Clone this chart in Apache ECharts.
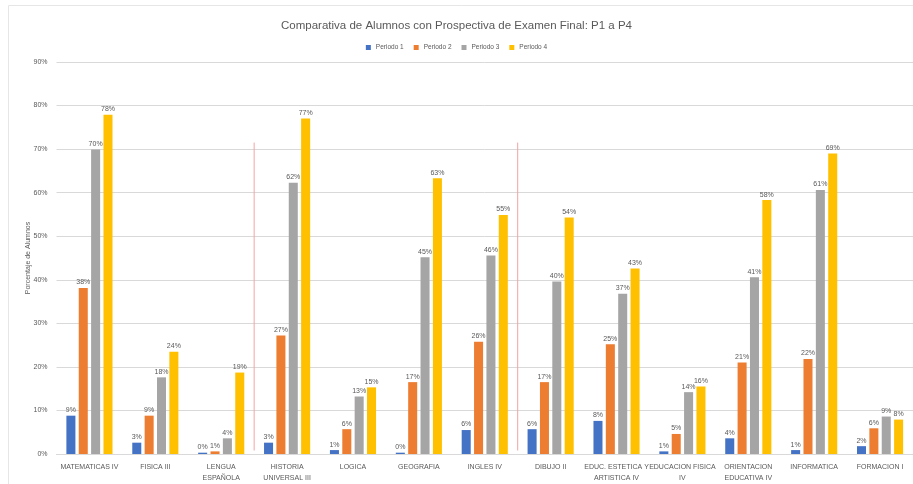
<!DOCTYPE html>
<html>
<head>
<meta charset="utf-8">
<script src="https://cdn.jsdelivr.net/npm/echarts@6/dist/echarts.min.js"></script>
<style>html,body{margin:0;padding:0;background:#fff}#c{width:913px;height:484px}</style>
</head>
<body>
<div id="c"></div>
<script>
const categories = ["MATEMATICAS IV","FISICA III","LENGUA\nESPAÑOLA","HISTORIA\nUNIVERSAL III","LOGICA","GEOGRAFIA","INGLES IV","DIBUJO II","EDUC. ESTETICA Y\nARTISTICA IV","EDUCACION FISICA\nIV","ORIENTACION\nEDUCATIVA IV","INFORMATICA","FORMACION I"];
const periodo1 = [8.8, 2.6, 0.3, 2.6, 0.9, 0.3, 5.5, 5.7, 7.6, 0.6, 3.6, 0.9, 1.8];
const periodo2 = [38.1, 8.8, 0.6, 27.2, 5.7, 16.5, 25.8, 16.5, 25.2, 4.6, 21.0, 21.8, 5.9];
const periodo3 = [69.9, 17.6, 3.6, 62.3, 13.2, 45.2, 45.6, 39.6, 36.8, 14.2, 40.6, 60.6, 8.6];
const periodo4 = [77.9, 23.5, 18.7, 77.0, 15.3, 63.3, 54.9, 54.3, 42.6, 15.5, 58.3, 69.0, 7.9];
const seriesNames = ["Periodo 1","Periodo 2","Periodo 3","Periodo 4"];
const colors = ["#4472C4","#ED7D31","#A5A5A5","#FFC000"];
const yTicks = [0,10,20,30,40,50,60,70,80,90];
const separators = [[2.5, 71.5], [6.5, 71.5]];

const chart = echarts.init(document.getElementById('c'));
const FONT = 'Liberation Sans';
const TXT = '#595959';
const allData = [periodo1, periodo2, periodo3, periodo4];
const barSeries = allData.map((d, i) => ({
  name: seriesNames[i],
  type: 'bar',
  data: d,
  xAxisIndex: 0, yAxisIndex: 0,
  barGap: '37%',
  barCategoryGap: '30%',
  itemStyle: { color: colors[i] },
  label: {
    show: true, position: 'top', distance: 2,
    fontFamily: FONT, fontSize: 7, color: TXT,
    formatter: p => Math.round(p.value) + '%'
  }
}));

chart.setOption({
  animation: false,
  color: colors,
  textStyle: { fontFamily: FONT },
  title: {
    text: 'Comparativa de Alumnos con Prospectiva de Examen Final: P1 a P4',
    left: 'center', top: 15,
    textStyle: { fontFamily: FONT, fontSize: 11.5, fontWeight: 'normal', color: TXT }
  },
  legend: {
    top: 39, left: 'center',
    data: seriesNames,
    icon: 'rect', itemWidth: 5, itemHeight: 5, itemGap: 10,
    textStyle: { fontFamily: FONT, fontSize: 6.5, color: TXT }
  },
  graphic: [{
    type: 'rect', shape: { x: 8.5, y: 5.5, width: 920, height: 490 },
    style: { fill: 'none', stroke: '#e6e6e6', lineWidth: 1 }, silent: true, z: -1
  }],
  grid: { left: 56.5, right: -1.5, top: 62, bottom: 28, containLabel: false },
  xAxis: [{
    type: 'category', data: categories,
    axisLine: { show: true, lineStyle: { color: '#d9d9d9' } },
    axisTick: { show: false },
    axisLabel: { interval: 0, fontFamily: FONT, fontSize: 7, color: TXT, margin: 8, lineHeight: 11 }
  }, {
    type: 'value', min: -0.5, max: 12.5, show: false
  }],
  yAxis: {
    type: 'value', min: 0, max: 90, interval: 10,
    name: 'Porcentaje de Alumnos', nameLocation: 'middle', nameGap: 25, nameRotate: 90,
    nameMoveOverlap: false,
    nameTextStyle: { fontFamily: FONT, fontSize: 7, color: TXT },
    axisLine: { show: false }, axisTick: { show: false },
    axisLabel: { fontFamily: FONT, fontSize: 7, color: TXT, margin: 9, formatter: v => yTicks.includes(v) ? v + '%' : '' },
    splitLine: { lineStyle: { color: '#d9d9d9', width: 1 } }
  },
  series: barSeries.concat([{
    type: 'custom', xAxisIndex: 1, yAxisIndex: 0,
    data: separators, silent: true, z: 5,
    renderItem: (params, api) => {
      const top = api.coord([api.value(0), api.value(1)]);
      const bot = api.coord([api.value(0), 0.8]);
      return { type: 'line', shape: { x1: top[0], y1: top[1], x2: bot[0], y2: bot[1] },
               style: { stroke: '#f3a3a3', lineWidth: 1 } };
    }
  }])
});
</script>
</body>
</html>
